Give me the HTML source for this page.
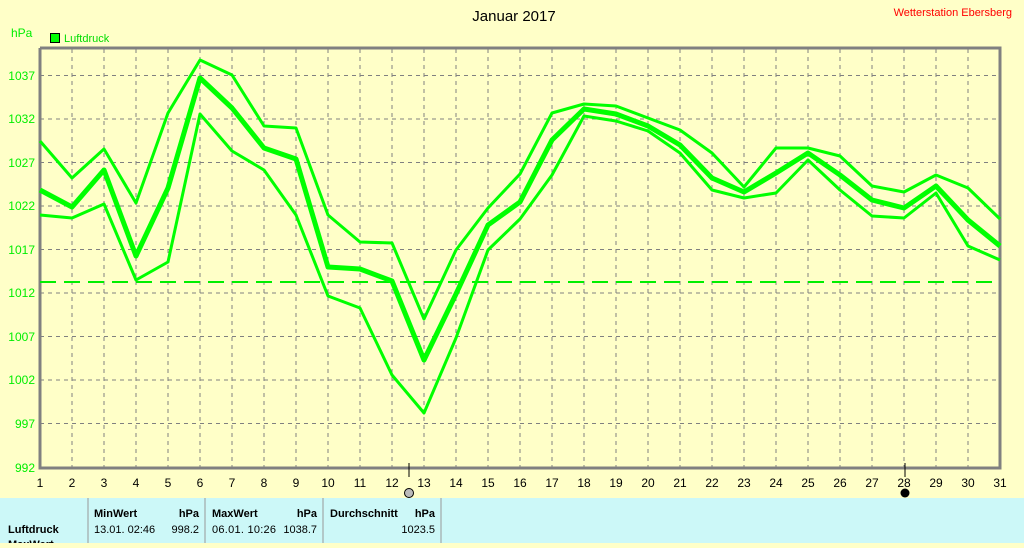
<!DOCTYPE html>
<html><head><meta charset="utf-8"><style>
body{margin:0;width:1024px;height:543px;overflow:hidden;background:#ffffc8;font-family:"Liberation Sans",sans-serif}
</style></head><body>
<svg width="1024" height="543" xmlns="http://www.w3.org/2000/svg" font-family="Liberation Sans, sans-serif">
<rect width="1024" height="543" fill="#ffffc8"/>
<text x="514" y="21" font-size="15" text-anchor="middle" fill="#000">Januar 2017</text>
<text x="1012" y="16" font-size="11" text-anchor="end" fill="#ff0000">Wetterstation Ebersberg</text>
<text x="11" y="37" font-size="12" fill="#00ee00">hPa</text>
<rect x="50.5" y="33.5" width="9" height="9" fill="#00ff00" stroke="#000"/>
<text x="64" y="42" font-size="11" fill="#00dd00">Luftdruck</text>
<g stroke="#808080" stroke-dasharray="4,4" stroke-width="1">
<path d="M72 49V468M104 49V468M136 49V468M168 49V468M200 49V468M232 49V468M264 49V468M296 49V468M328 49V468M360 49V468M392 49V468M424 49V468M456 49V468M488 49V468M520 49V468M552 49V468M584 49V468M616 49V468M648 49V468M680 49V468M712 49V468M744 49V468M776 49V468M808 49V468M840 49V468M872 49V468M904 49V468M936 49V468M968 49V468"/>
<path d="M40 75.5H1000M40 119H1000M40 162.5H1000M40 206H1000M40 249.5H1000M40 293H1000M40 336.5H1000M40 380H1000M40 423.5H1000"/>
</g>
<path d="M40 48V468H1000V48H40" fill="none" stroke="#808080" stroke-width="3"/>
<g font-size="12" fill="#00ee00" text-anchor="end">
<text x="35" y="80">1037</text><text x="35" y="123">1032</text><text x="35" y="167">1027</text><text x="35" y="210">1022</text><text x="35" y="254">1017</text><text x="35" y="297">1012</text><text x="35" y="341">1007</text><text x="35" y="384">1002</text><text x="35" y="428">997</text><text x="35" y="472">992</text>
</g>
<g font-size="12" fill="#000" text-anchor="middle">
<text x="40" y="487">1</text><text x="72" y="487">2</text><text x="104" y="487">3</text><text x="136" y="487">4</text><text x="168" y="487">5</text><text x="200" y="487">6</text><text x="232" y="487">7</text><text x="264" y="487">8</text><text x="296" y="487">9</text><text x="328" y="487">10</text><text x="360" y="487">11</text><text x="392" y="487">12</text><text x="424" y="487">13</text><text x="456" y="487">14</text><text x="488" y="487">15</text><text x="520" y="487">16</text><text x="552" y="487">17</text><text x="584" y="487">18</text><text x="616" y="487">19</text><text x="648" y="487">20</text><text x="680" y="487">21</text><text x="712" y="487">22</text><text x="744" y="487">23</text><text x="776" y="487">24</text><text x="808" y="487">25</text><text x="840" y="487">26</text><text x="872" y="487">27</text><text x="904" y="487">28</text><text x="936" y="487">29</text><text x="968" y="487">30</text><text x="1000" y="487">31</text>
</g>
<path d="M409 463V477M905 463V477" stroke="#000"/>
<circle cx="409" cy="493" r="4.5" fill="#bbb" stroke="#000"/>
<circle cx="905" cy="493" r="4.5" fill="#000"/>
<path d="M40 282H1000" stroke="#00ee00" stroke-width="2" stroke-dasharray="16,8"/>
<g fill="none" stroke="#00ff00" stroke-linejoin="round">
<polyline stroke-width="3" points="40,141 72,178 104,149 136,203 168,113 200,60 232,75 264,126 296,128 328,215 360,242 392,243 424,319 456,250 488,208 520,174 552,113 584,104 616,106 648,118 680,130 712,153 744,187 776,148 808,148 840,156 872,186 904,192 936,175 968,188 1000,219"/>
<polyline stroke-width="5" points="40,190 72,207 104,170 136,256 168,188 200,78 232,108 264,148 296,159 328,267 360,269 392,281 424,360 456,294 488,225 520,202 552,140 584,109 616,114 648,126 680,145 712,178 744,192 776,173 808,153 840,175 872,200 904,208 936,186 968,220 1000,246"/>
<polyline stroke-width="3" points="40,215 72,218 104,204 136,280 168,262 200,114 232,151 264,170 296,215 328,296 360,308 392,375 424,413 456,338 488,250 520,219 552,175 584,116 616,121 648,131 680,153 712,190 744,198 776,193 808,160 840,190 872,216 904,218 936,193 968,246 1000,260"/>
</g>
<rect x="0" y="498" width="1024" height="45" fill="#ccf8f8"/>
<path d="M88 498V543M205 498V543M323 498V543M441 498V543" stroke="#999" stroke-width="1"/>
<g font-size="11" font-weight="bold" fill="#000">
<text x="8" y="533">Luftdruck</text>
<text x="8" y="548">MaxWert</text>
<text x="94" y="517">MinWert</text><text x="199" y="517" text-anchor="end">hPa</text>
<text x="212" y="517">MaxWert</text><text x="317" y="517" text-anchor="end">hPa</text>
<text x="330" y="517">Durchschnitt</text><text x="435" y="517" text-anchor="end">hPa</text>
</g>
<g font-size="11" fill="#000">
<text x="94" y="533">13.01.  02:46</text><text x="199" y="533" text-anchor="end">998.2</text>
<text x="212" y="533" textLength="64">06.01.  10:26</text><text x="317" y="533" text-anchor="end">1038.7</text>
<text x="435" y="533" text-anchor="end">1023.5</text>
</g>
</svg>
</body></html>
